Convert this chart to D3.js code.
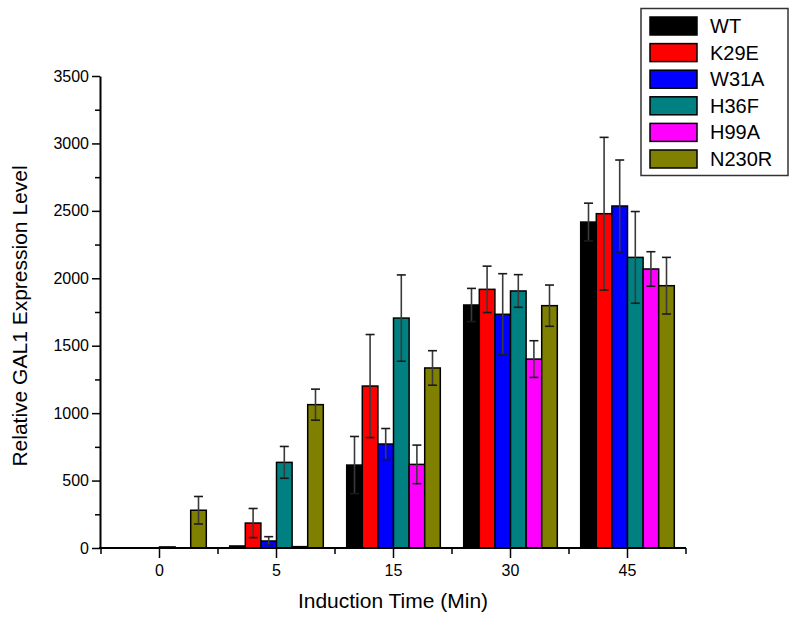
<!DOCTYPE html>
<html><head><meta charset="utf-8">
<script src="https://cdn.jsdelivr.net/npm/d3@7"></script>
<style>body{margin:0;background:#fff}svg{display:block;font-family:"Liberation Sans",Arial,sans-serif}</style>
</head><body><svg id="c" width="794" height="620"></svg>
<script>
const categories = ["0","5","15","30","45"];
const seriesNames = ["WT","K29E","W31A","H36F","H99A","N230R"];
const seriesColors = ["#000000","#ff0000","#0000ff","#008080","#ff00ff","#808000"];
const WT    = [0, 15, 615, 1802, 2417];
const K29E  = [0, 185, 1201, 1918, 2479];
const W31A  = [0, 52, 771, 1733, 2536];
const H36F  = [8, 635, 1705, 1906, 2155];
const H99A  = [0, 10, 620, 1401, 2069];
const N230R = [280, 1063, 1335, 1797, 1945];
const WT_err    = [0, 0, 212, 123, 140];
const K29E_err  = [0, 108, 382, 172, 566];
const W31A_err  = [0, 32, 115, 301, 341];
const H36F_err  = [0, 118, 320, 121, 340];
const H99A_err  = [0, 0, 143, 136, 128];
const N230R_err = [102, 115, 128, 153, 210];
const yTicks = [0,500,1000,1500,2000,2500,3000,3500];
const yMinorTicks = [250,750,1250,1750,2250,2750,3250];

const values = [WT,K29E,W31A,H36F,H99A,N230R];
const errs = [WT_err,K29E_err,W31A_err,H36F_err,H99A_err,N230R_err];

const svg = d3.select("#c");
const x0 = d3.scaleBand().domain(categories).range([101,686]).paddingInner(0).paddingOuter(0);
const bw = x0.bandwidth();
const x1 = d3.scaleBand().domain(seriesNames).range([bw*0.1, bw*0.9]).padding(0);
const y = d3.scaleLinear().domain([0,3500]).range([548,76]);

const data = [];
categories.forEach((c,ci)=>{
  seriesNames.forEach((s,si)=>{
    data.push({c, s, v: values[si][ci], e: errs[si][ci], color: seriesColors[si]});
  });
});

// bars
svg.append("g").selectAll("rect").data(data).join("rect")
  .attr("x", d=>x0(d.c)+x1(d.s))
  .attr("y", d=>y(d.v))
  .attr("width", x1.bandwidth())
  .attr("height", d=>y(0)-y(d.v))
  .attr("fill", d=>d.color)
  .attr("stroke","#000").attr("stroke-width",1.5);

// error bars
const eg = svg.append("g").attr("stroke","#3a3a3a").attr("stroke-width",1.6);
data.filter(d=>d.e>0).forEach(d=>{
  const cx = x0(d.c)+x1(d.s)+x1.bandwidth()/2;
  eg.append("line").attr("x1",cx).attr("x2",cx).attr("y1",y(d.v+d.e)).attr("y2",y(Math.max(0,d.v-d.e)));
  [d.v+d.e, Math.max(0,d.v-d.e)].forEach(v=>{
    eg.append("line").attr("x1",cx-4.5).attr("x2",cx+4.5).attr("y1",y(v)).attr("y2",y(v)).attr("stroke","#1a1a1a");
  });
});

// y axis
const yAxis = svg.append("g").attr("transform","translate(100,0)")
  .call(d3.axisLeft(y).tickValues(yTicks).tickFormat(d3.format("d")).tickSize(8).tickPadding(3).tickSizeOuter(0));
yAxis.select(".domain").attr("stroke","#000").attr("stroke-width",2);
yAxis.selectAll(".tick line").attr("stroke-width",1.5);
yAxis.selectAll("text").attr("font-size",16).attr("font-family","Liberation Sans, Arial, sans-serif").attr("fill","#000");
svg.append("g").attr("transform","translate(100,0)")
  .call(d3.axisLeft(y).tickValues(yMinorTicks).tickSize(5).tickFormat("").tickSizeOuter(0))
  .call(g=>g.select(".domain").remove())
  .selectAll(".tick line").attr("stroke-width",1.5);

// x axis
const xAxis = svg.append("g").attr("transform","translate(0,548)")
  .call(d3.axisBottom(x0).tickSize(10).tickPadding(7).tickSizeOuter(0));
xAxis.select(".domain").attr("stroke","#000").attr("stroke-width",2).attr("d","M99,0H686");
xAxis.selectAll(".tick line").attr("stroke-width",1.5);
xAxis.selectAll("text").attr("font-size",16).attr("font-family","Liberation Sans, Arial, sans-serif").attr("fill","#000");
const bounds = categories.map(c=>x0(c)).concat([x0(categories[categories.length-1])+bw]);
svg.append("g").selectAll("line").data(bounds).join("line")
  .attr("x1",d=>d).attr("x2",d=>d).attr("y1",548).attr("y2",554)
  .attr("stroke","#000").attr("stroke-width",1.5);

// titles
svg.append("text").attr("x",393).attr("y",608).attr("text-anchor","middle")
  .attr("font-size",21).text("Induction Time (Min)");
svg.append("text").attr("transform","translate(27,316) rotate(-90)").attr("text-anchor","middle")
  .attr("font-size",21).text("Relative GAL1 Expression Level");

// legend
const lg = svg.append("g");
lg.append("rect").attr("x",641).attr("y",8.5).attr("width",147).attr("height",167)
  .attr("fill","#fff").attr("stroke","#333").attr("stroke-width",1.5);
seriesNames.forEach((s,i)=>{
  const yy = 17 + i*26.6;
  lg.append("rect").attr("x",650).attr("y",yy).attr("width",47).attr("height",18)
    .attr("fill",seriesColors[i]).attr("stroke","#000").attr("stroke-width",1.5);
  lg.append("text").attr("x",710).attr("y",yy+16).attr("font-size",20).text(s);
});
</script></body></html>
